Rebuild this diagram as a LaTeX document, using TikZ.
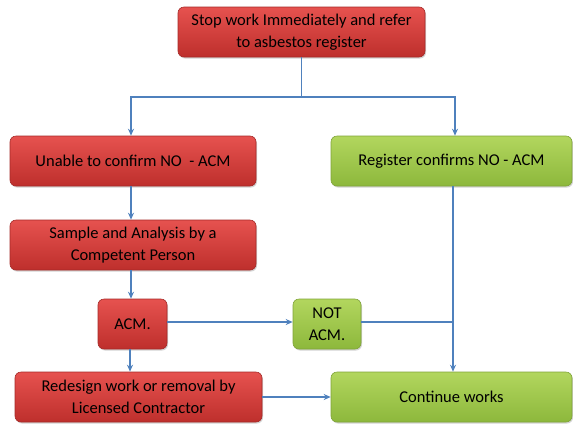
\documentclass[tikz,border=0pt]{standalone}
\usepackage{fontspec}
\setmainfont{Carlito}
\usetikzlibrary{arrows.meta,shadows}
\definecolor{redtop}{HTML}{E6524F}
\definecolor{redbot}{HTML}{BE2F2C}
\definecolor{redline}{HTML}{A52A28}
\definecolor{greentop}{HTML}{B2D65E}
\definecolor{greenbot}{HTML}{8DB83C}
\definecolor{greenline}{HTML}{7FA338}
\definecolor{flow}{HTML}{4F81BD}
\tikzset{
  box/.style={draw, line width=0.6pt, rounded corners=6pt, align=center,
    font=\fontsize{16.5}{22}\selectfont, text=black, inner sep=2pt,
    drop shadow={shadow xshift=1pt, shadow yshift=-1.5pt, opacity=0.35}},
  redbox/.style={box, draw=redline, top color=redtop, bottom color=redbot},
  greenbox/.style={box, draw=greenline, top color=greentop, bottom color=greenbot},
  link/.style={draw=flow, line width=1.6pt},
  arr/.style={link, -{Stealth[length=7pt,width=6pt]}}
}
\begin{document}
\begin{tikzpicture}[x=1pt,y=-1pt]
\useasboundingbox (0,0) rectangle (573,424);
% decision boxes
\node[redbox, minimum width=247pt, minimum height=50pt] (stop) at (301.5,32) {Stop work Immediately and refer\\to asbestos register};
\node[redbox, minimum width=246pt, minimum height=50pt] (unable) at (133,161) {Unable to confirm NO\ \ - ACM};
\node[greenbox, minimum width=241pt, minimum height=50pt] (reg) at (451.5,161) {Register confirms NO - ACM};
\node[redbox, minimum width=246pt, minimum height=50pt] (sample) at (133,245) {Sample and Analysis by a\\Competent Person};
\node[redbox, minimum width=69pt, minimum height=50pt] (acm) at (132.5,324) {ACM.};
\node[greenbox, minimum width=68pt, minimum height=50pt] (notacm) at (327,324) {NOT\\ACM.};
\node[redbox, minimum width=247pt, minimum height=50pt] (redesign) at (138.5,397) {Redesign work or removal by\\Licensed Contractor};
\node[greenbox, minimum width=241pt, minimum height=50pt] (cont) at (451.5,397) {Continue works};
% connectors
\coordinate (split) at (301.5,97);
\coordinate (joinL) at (131,97);
\coordinate (joinR) at (455,97);
\coordinate (merge) at (453,322);
\draw[link] (stop.south) -- (split);
\draw[arr] (split) -- (joinL) -- (joinL |- unable.north);
\draw[arr] (split) -- (joinR) -- (joinR |- reg.north);
\draw[arr] (unable.south -| 131,0) -- (sample.north -| 131,0);
\draw[arr] (sample.south -| 131,0) -- (acm.north -| 131,0);
\draw[arr] (acm.east |- 0,322) -- (notacm.west |- 0,322);
\draw[link] (notacm.east |- 0,322) -- (merge);
\draw[arr] (reg.south -| merge) -- (cont.north -| merge);
\draw[arr] (acm.south -| 130,0) -- (redesign.north -| 130,0);
\draw[arr] (redesign.east) -- (cont.west);
\end{tikzpicture}
\end{document}
